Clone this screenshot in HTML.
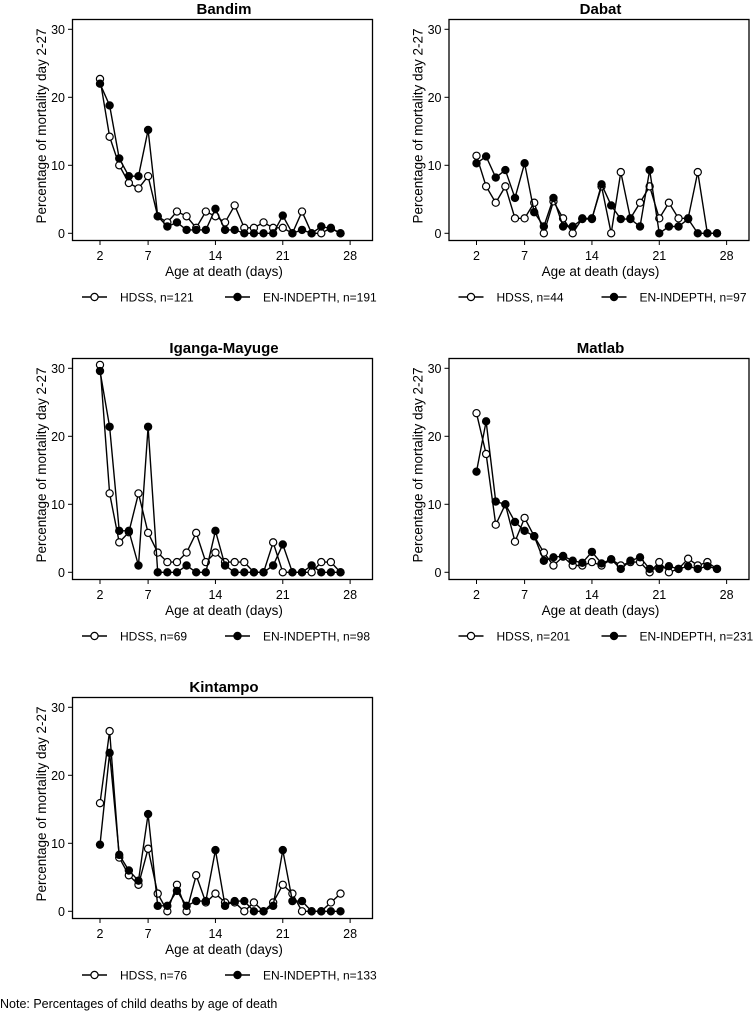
<!DOCTYPE html>
<html><head><meta charset="utf-8"><style>
body{margin:0;background:#fff;width:754px;height:1015px;overflow:hidden;font-family:"Liberation Sans",sans-serif}
svg text{font-family:"Liberation Sans",sans-serif;fill:#000}
</style></head><body>
<svg id="chart" width="754" height="1015" xmlns="http://www.w3.org/2000/svg"></svg>
<script>
const days=[2,3,4,5,6,7,8,9,10,11,12,13,14,15,16,17,18,19,20,21,22,23,24,25,26,27];
const yTicks=[0,10,20,30];
const xTicks=[2,7,14,21,28];
const panelNames=["Bandim","Dabat","Iganga-Mayuge","Matlab","Kintampo"];
const hdssN=[121,44,69,201,76];
const enN=[191,97,98,231,133];
const bandimHdss=[22.7,14.2,10,7.4,6.6,8.4,2.5,1.6,3.2,2.5,0.8,3.2,2.5,1.6,4.1,0.8,0.8,1.6,0.8,0.8,0,3.2,0,0,0.8,0];
const bandimEn=[22,18.8,11,8.4,8.4,15.2,2.5,1,1.6,0.5,0.5,0.5,3.6,0.5,0.5,0,0,0,0,2.6,0,0.5,0,1,0.7,0];
const dabatHdss=[11.4,6.9,4.5,6.9,2.2,2.2,4.5,0,4.7,2.2,0,2.2,2.2,6.9,0,9,2.2,4.5,6.9,2.2,4.5,2.2,2.2,9,0,0];
const dabatEn=[10.3,11.3,8.2,9.3,5.2,10.3,3.1,1,5.2,1,1,2.1,2.1,7.2,4.1,2.1,2.1,1,9.3,0,1,1,2.1,0,0,0];
const igangaHdss=[30.5,11.6,4.4,5.9,11.6,5.8,2.9,1.5,1.5,2.9,5.8,1.5,2.9,1.5,1.5,1.5,0,0,4.4,0,0,0,0,1.5,1.5,0];
const igangaEn=[29.6,21.4,6.1,6.1,1,21.4,0,0,0,1,0,0,6.1,1,0,0,0,0,1,4.1,0,0,1,0,0,0];
const matlabHdss=[23.4,17.4,7,10,4.5,8,5.3,2.9,1,2.3,1,1,1.5,1,1.9,1,1.5,1.5,0,1.5,0,0.5,2,1,1.5,0.5];
const matlabEn=[14.8,22.2,10.4,10,7.4,6.1,5.3,1.7,2.2,2.4,1.7,1.4,3,1.3,1.9,0.5,1.7,2.2,0.5,0.5,0.9,0.5,0.9,0.5,0.9,0.5];
const kintHdss=[15.9,26.5,7.9,5.3,3.9,9.2,2.6,0,3.9,0,5.3,1.3,2.6,1.3,1.3,0,1.3,0,1.3,3.9,2.6,0,0,0,1.3,2.6];
const kintEn=[9.8,23.3,8.3,6,4.5,14.3,0.8,0.8,3,0.8,1.5,1.5,9,0.8,1.5,1.5,0,0,0.8,9,1.5,1.5,0,0,0,0];
const hdssSeries=[bandimHdss,dabatHdss,igangaHdss,matlabHdss,kintHdss];
const enSeries=[bandimEn,dabatEn,igangaEn,matlabEn,kintEn];

const NS="http://www.w3.org/2000/svg";
const svg=document.getElementById('chart');
function mk(tag,attrs,parent){const e=document.createElementNS(NS,tag);for(const k in attrs)e.setAttribute(k,attrs[k]);(parent||svg).appendChild(e);return e;}
const slug=s=>s.toLowerCase().replace(/[^a-z]+/g,'-');

panelNames.forEach((name,i)=>{
  const ox=(i%2)*376.5, oy=Math.floor(i/2)*339;
  const xS=d=>ox+100+(d-2)*9.62;
  const yS=v=>oy+233.3-v*6.8;
  const g=mk('g',{});
  
  
  const t=mk('text',{x:ox+224,y:oy+14,'text-anchor':'middle','font-size':'15','font-weight':'bold'},g);t.textContent=name;
  
  
  const fr=mk('rect',{x:ox+72.5,y:oy+19.5,width:300,height:221,fill:'none',stroke:'#000','stroke-width':1.3},g);
  
  
  yTicks.forEach(v=>{
    mk('line',{x1:ox+68,x2:ox+72.5,y1:yS(v),y2:yS(v),stroke:'#000'},g);
    const tl=mk('text',{x:ox+65,y:yS(v)+4.5,'text-anchor':'end','font-size':'12.5'},g);tl.textContent=v;
    
    
  });
  xTicks.forEach(d=>{
    mk('line',{x1:xS(d),x2:xS(d),y1:oy+240.5,y2:oy+245,stroke:'#000'},g);
    const tl=mk('text',{x:xS(d),y:oy+260,'text-anchor':'middle','font-size':'12.5'},g);tl.textContent=d;
    
    
  });
  const yt=mk('text',{x:0,y:0,'text-anchor':'middle','font-size':'13.5',transform:`translate(${ox+46},${oy+126}) rotate(-90)`},g);
  yt.textContent='Percentage of mortality day 2-27';
  
  
  const xt=mk('text',{x:ox+224,y:oy+276,'text-anchor':'middle','font-size':'13.5'},g);
  xt.textContent='Age at death (days)';
  
  
  [[hdssSeries[i],'#fff','hdss'],[enSeries[i],'#000','en-indepth']].forEach(([vals,fill,key])=>{
    const pl=mk('polyline',{points:vals.map((v,j)=>xS(days[j])+','+yS(v)).join(' '),fill:'none',stroke:'#000','stroke-width':1.4},g);
    
    
    vals.forEach((v,j)=>{
      const c=mk('circle',{cx:xS(days[j]),cy:yS(v),r:3.6,fill:fill,stroke:'#000','stroke-width':1.2},g);
      
      
    });
  });
  const ly=oy+297;
  [[82,'#fff','HDSS, n='+hdssN[i],'legend-hdss'],[225,'#000','EN-INDEPTH, n='+enN[i],'legend-en-indepth']].forEach(([lx,fill,label,key])=>{
    const lg=mk('g',{},g);
    
    
    mk('line',{x1:ox+lx,x2:ox+lx+25,y1:ly,y2:ly,stroke:'#000','stroke-width':1.4},lg);
    mk('circle',{cx:ox+lx+12.5,cy:ly,r:3.6,fill:fill,stroke:'#000','stroke-width':1.2},lg);
    const lt=mk('text',{x:ox+lx+38,y:ly+4.5,'font-size':'12'},lg);lt.textContent=label;
  });
});
const note=mk('text',{x:0,y:1008,'font-size':'12.5'});
note.textContent='Note: Percentages of child deaths by age of death';


</script>
</body></html>
